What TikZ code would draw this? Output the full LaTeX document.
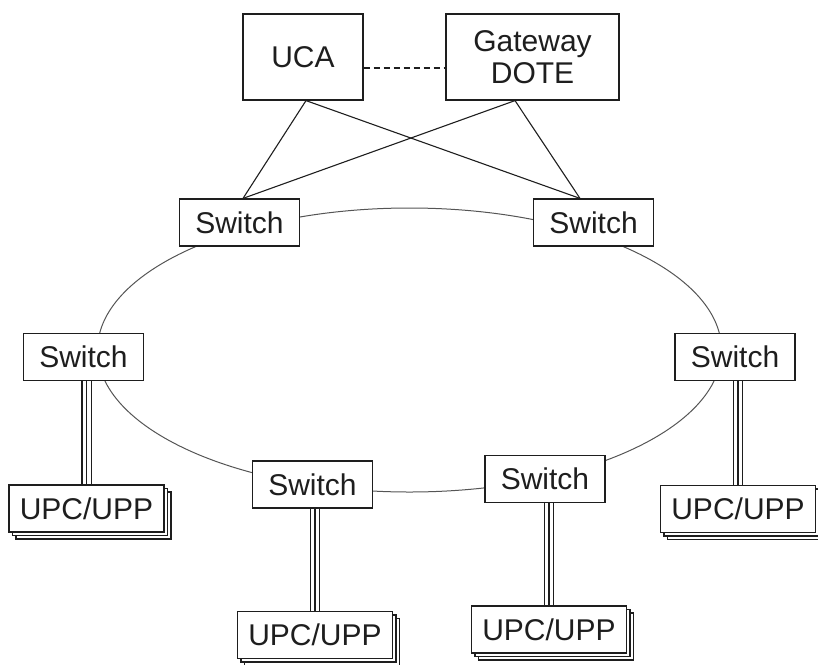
\documentclass[tikz,border=0pt]{standalone}
\usepackage{fontspec}
\setmainfont{Liberation Sans}
\usetikzlibrary{calc}
\definecolor{ink}{HTML}{1E1E1E}
\definecolor{ringc}{HTML}{555555}
\tikzset{
  box/.style={draw=ink, line width=1.2pt, fill=white, inner sep=0pt, align=center,
    text=ink, font=\fontsize{30}{32}\selectfont},
  swbox/.style={box, minimum width=120pt, minimum height=47pt},
  upcbox/.style={box, minimum width=155pt, minimum height=47pt},
  link/.style={draw=ink, line width=1.1pt},
  ring/.style={draw=ringc, line width=1pt},
  triple/.style={draw=ink, line width=1.1pt, double=white, double distance=8pt},
  mid/.style={draw=ink, line width=1.1pt},
  dashlink/.style={draw=ink, line width=1.1pt, dash pattern=on 6pt off 4pt},
  shadowbox/.style={draw=ink, line width=1.1pt, fill=white}
}
\newcommand{\stackbox}[3]{%
  \draw[shadowbox] ($(#2,#3)+(-77.5,-23.5)+(7,7)$) rectangle ($(#2,#3)+(77.5,23.5)+(7,7)$);
  \draw[shadowbox] ($(#2,#3)+(-77.5,-23.5)+(3.5,3.5)$) rectangle ($(#2,#3)+(77.5,23.5)+(3.5,3.5)$);
  \node[upcbox] (#1) at (#2,#3) {UPC/UPP};
}
\begin{document}
\begin{tikzpicture}[x=1pt,y=-1pt]
\useasboundingbox (0,0) rectangle (818,664);
% ring behind the switches
\draw[ring] (409.5,350) ellipse [x radius=312pt, y radius=142pt];
% top nodes
\node[box, minimum width=120pt, minimum height=86pt] (uca) at (303,57) {UCA};
\node[box, minimum width=173pt, minimum height=86pt] (gw) at (532.5,57) {Gateway\\DOTE};
% switches
\node[swbox] (stl) at (239.5,222.5) {Switch};
\node[swbox] (str) at (593.5,222.5) {Switch};
\node[swbox] (sl) at (83.5,357) {Switch};
\node[swbox] (sr) at (735,357) {Switch};
\node[swbox] (sbl) at (312.5,484.5) {Switch};
\node[swbox] (sbr) at (545,479) {Switch};
% UPC/UPP stacks
\stackbox{ul}{86.5}{508.5}
\stackbox{ubl}{315}{635}
\stackbox{ubr}{549}{629.5}
\stackbox{ur}{738}{509}
% dashed link
\draw[dashlink] ([yshift=-11pt]uca.east) -- ([yshift=-11pt]gw.west);
% cross links
\draw[link] ([xshift=3pt]uca.south) -- ([xshift=3.5pt]stl.north);
\draw[link] ([xshift=3pt]uca.south) -- ([xshift=-13.5pt]str.north);
\draw[link] ([xshift=-17.5pt]gw.south) -- ([xshift=3.5pt]stl.north);
\draw[link] ([xshift=-17.5pt]gw.south) -- ([xshift=-13.5pt]str.north);
% triple links
\foreach \s/\u in {sl/ul, sbl/ubl, sbr/ubr, sr/ur}{
  \draw[triple] (\u.north |- \s.south) -- (\u.north);
  \draw[mid] (\u.north |- \s.south) -- (\u.north);
}
\end{tikzpicture}
\end{document}
